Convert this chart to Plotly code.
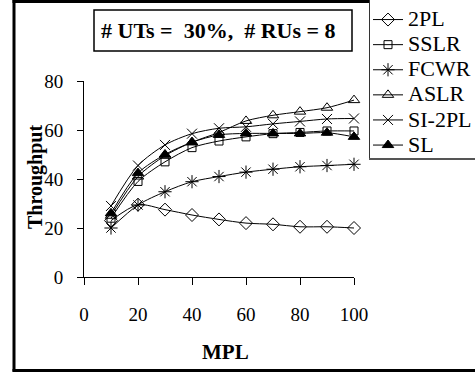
import plotly.graph_objects as go

# ---- data ----
mpl = [10, 20, 30, 40, 50, 60, 70, 80, 90, 100]
tpl_2pl = [23, 29.5, 27.5, 25.3, 23.5, 22, 21.5, 20.5, 20.5, 20]
sslr = [24, 39, 47, 52.8, 55.5, 57.2, 58.5, 59, 59.6, 59.6]
fcwr = [20, 29.4, 34.8, 38.9, 41, 42.8, 44, 45, 45.5, 46]
aslr = [25, 41, 49.5, 55, 59, 63.7, 66, 67.5, 69.1, 72.2]
si_2pl = [29, 45.5, 53.9, 58.5, 60.7, 61.3, 62.5, 63.5, 64.5, 64.7]
sl = [26, 42.4, 50, 55, 58, 58.6, 58.6, 58.6, 58.9, 57.2]

series_names = ["2PL", "SSLR", "FCWR", "ASLR", "SI-2PL", "SL"]
series_values = [tpl_2pl, sslr, fcwr, aslr, si_2pl, sl]
symbols = ["diamond-open", "square-open", "asterisk-open", "triangle-up-open", "x-thin-open", "triangle-up"]
sizes = [10, 8, 11, 10, 10, 10]

x_ticks = [0, 20, 40, 60, 80, 100]
y_ticks = [0, 20, 40, 60, 80]

W, H = 475, 373
FONT = "Liberation Serif"

def px(x):
    return x / W

def py(y):
    return 1 - y / H

fig = go.Figure()
for name, vals, sym, sz in zip(series_names, series_values, symbols, sizes):
    fig.add_trace(go.Scatter(
        x=mpl, y=vals, mode="lines+markers",
        name=f'<span style="font-size:22px">{name}</span>',
        line=dict(color="black", width=1, shape="spline", smoothing=0.8),
        marker=dict(symbol=sym, size=sz, color="black",
                    line=dict(color="black", width=1)),
        cliponaxis=False,
    ))

axis_common = dict(
    showgrid=False, zeroline=False, showline=True, linecolor="black", linewidth=1,
    ticks="outside", tickcolor="black", tickwidth=1,
    tickfont=dict(family=FONT, size=19, color="black"),
)

fig.update_layout(
    width=W, height=H,
    margin=dict(l=0, r=0, t=0, b=0, autoexpand=False),
    paper_bgcolor="white", plot_bgcolor="white",
    font=dict(family=FONT, color="black"),
    xaxis=dict(domain=[px(84), px(354)], range=[0, 100], tickvals=x_ticks,
               ticklen=7, ticklabelstandoff=13, **axis_common),
    yaxis=dict(domain=[py(277), py(81)], range=[0, 80], tickvals=y_ticks,
               ticklen=6, ticklabelstandoff=10, **axis_common),
    showlegend=True,
    legend=dict(x=px(368), y=py(2), xanchor="left", yanchor="top",
                font=dict(family=FONT, size=17, color="black"),
                bgcolor="rgba(0,0,0,0)", borderwidth=0, itemwidth=30,
                tracegroupgap=0),
)

# axis titles
fig.add_annotation(text="<b>Throughput</b>", xref="paper", yref="paper",
                   x=px(35), y=py(177), xanchor="center", yanchor="middle",
                   textangle=-90, showarrow=False,
                   font=dict(family=FONT, size=20, color="black"))
fig.add_annotation(text="<b>MPL</b>", xref="paper", yref="paper",
                   x=px(225), y=py(352), xanchor="center", yanchor="middle",
                   showarrow=False,
                   font=dict(family=FONT, size=21, color="black"))

# condition box
fig.add_annotation(text="<b># UTs =\u00a0 30%,\u00a0 # RUs = 8</b>", xref="paper", yref="paper",
                   x=px(218), y=py(30.5), xanchor="center", yanchor="middle",
                   showarrow=False,
                   font=dict(family=FONT, size=22, color="black"))
fig.add_shape(type="rect", xref="paper", yref="paper",
              x0=px(94), x1=px(352), y0=py(10), y1=py(51),
              line=dict(color="black", width=1.5))

# outer frame
fig.add_shape(type="line", xref="paper", yref="paper", x0=px(14), x1=px(14), y0=py(0), y1=py(371.5),
              line=dict(color="black", width=3))
fig.add_shape(type="line", xref="paper", yref="paper", x0=px(12.5), x1=px(369), y0=py(1.5), y1=py(1.5),
              line=dict(color="black", width=3))
fig.add_shape(type="line", xref="paper", yref="paper", x0=px(12.5), x1=px(475), y0=py(370.5), y1=py(370.5),
              line=dict(color="black", width=3))
# legend frame
fig.add_shape(type="line", xref="paper", yref="paper", x0=px(369.5), x1=px(369.5), y0=py(0), y1=py(159),
              line=dict(color="#333333", width=1))
fig.add_shape(type="line", xref="paper", yref="paper", x0=px(369), x1=px(475), y0=py(159), y1=py(159),
              line=dict(color="#555555", width=2))

fig.write_html(
    "out.html", config={"displayModeBar": False},
    post_script="var d=document.getElementById('{plot_id}');d.style.position='fixed';"
                "d.style.left='0px';d.style.top='0px';document.body.style.margin='0';"
                "document.body.style.overflow='hidden';")
